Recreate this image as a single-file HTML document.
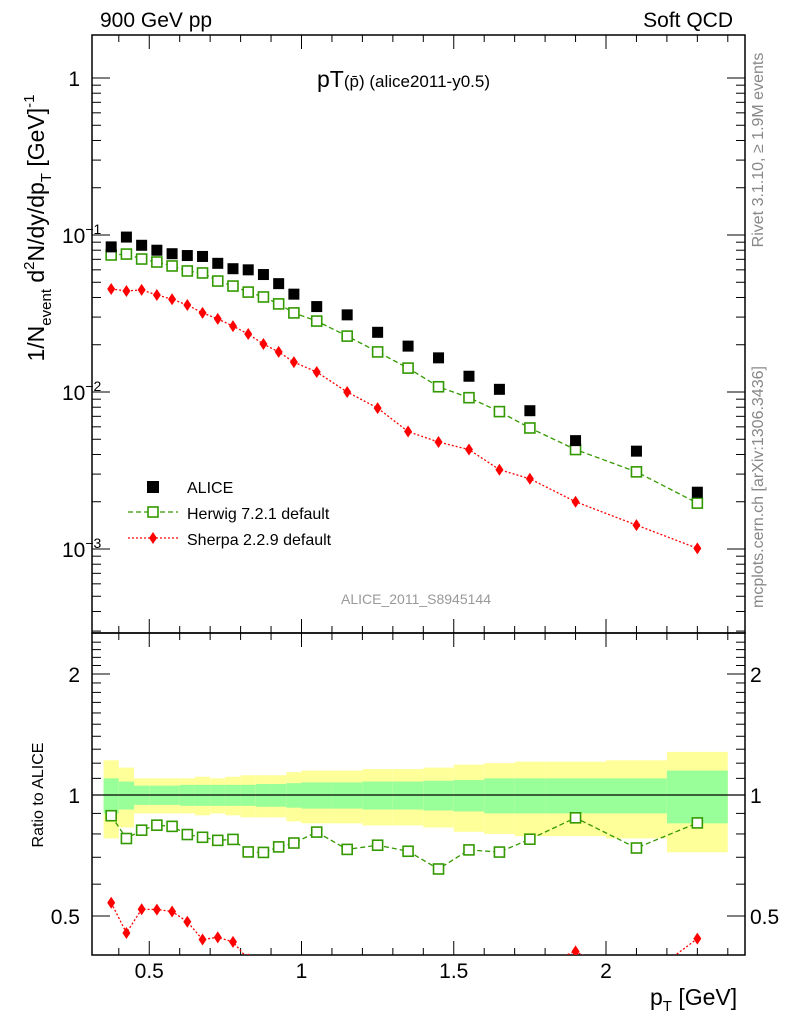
<!DOCTYPE html>
<html><head><meta charset="utf-8"><style>
body{margin:0;background:#fff}
svg text{font-family:"Liberation Sans",sans-serif}
</style></head><body>
<svg id="c" width="786" height="1024" xmlns="http://www.w3.org/2000/svg"></svg>
<script>
const xVals=[0.375,0.425,0.475,0.525,0.575,0.625,0.675,0.725,0.775,0.825,0.875,0.925,0.975,1.05,1.15,1.25,1.35,1.45,1.55,1.65,1.75,1.9,2.1,2.3];
const binEdges=[0.35,0.4,0.45,0.5,0.55,0.6,0.65,0.7,0.75,0.8,0.85,0.9,0.95,1.0,1.1,1.2,1.3,1.4,1.5,1.6,1.7,1.8,2.0,2.2,2.4];
const alice=[0.084,0.097,0.086,0.080,0.076,0.074,0.073,0.066,0.061,0.060,0.056,0.049,0.042,0.035,0.031,0.024,0.0196,0.0165,0.0126,0.0104,0.0076,0.0049,0.0042,0.0023];
const herwig=[0.0746,0.0756,0.0703,0.0673,0.0635,0.059,0.0573,0.0509,0.0473,0.0433,0.0403,0.0364,0.0319,0.0283,0.0227,0.018,0.0142,0.0108,0.0092,0.0075,0.0059,0.0043,0.0031,0.00196];
const sherpa=[0.0453,0.044,0.0447,0.0415,0.039,0.0358,0.0319,0.0292,0.0263,0.0234,0.0202,0.018,0.0155,0.0134,0.0100,0.0079,0.0056,0.0048,0.0043,0.0032,0.0028,0.0020,0.00142,0.00101];
const totErr=[0.22,0.17,0.10,0.10,0.10,0.10,0.11,0.10,0.11,0.12,0.12,0.12,0.14,0.15,0.15,0.16,0.16,0.17,0.19,0.20,0.21,0.21,0.22,0.28];
const statErr=[0.10,0.08,0.055,0.055,0.055,0.06,0.06,0.06,0.06,0.06,0.065,0.065,0.07,0.075,0.075,0.08,0.08,0.085,0.09,0.10,0.10,0.10,0.10,0.15];
const xTicks=[0.5,1,1.5,2];
const xTickLabels=["0.5","1","1.5","2"];
const ratioTicks=[0.5,1,2];
const ratioTickLabels=["0.5","1","2"];

const NS="http://www.w3.org/2000/svg";
const svg=document.getElementById('c');
const L=92,R=745,T=35,B1=633,B2=955;
const X=v=>-3+304.5*v;
const Y=v=>78-157*Math.log10(v);
const RY=v=>795-121*Math.log2(v);
function el(tag,attrs,parent){const e=document.createElementNS(NS,tag);for(const k in attrs)e.setAttribute(k,attrs[k]);(parent||svg).appendChild(e);return e;}
function txt(s,attrs){const e=el('text',attrs);e.textContent=s;return e;}

const defs=el('defs',{});
const c1=el('clipPath',{id:'cp1'},defs);el('rect',{x:L,y:T,width:R-L,height:B1-T},c1);
const c2=el('clipPath',{id:'cp2'},defs);el('rect',{x:L,y:B1,width:R-L,height:B2-B1},c2);

const gBand=el('g',{'clip-path':'url(#cp2)'});


for(let i=0;i<xVals.length;i++){
  const x0=X(binEdges[i]),x1=X(binEdges[i+1]);
  const y=el('rect',{x:x0,y:RY(1+totErr[i]),width:x1-x0,height:RY(1-totErr[i])-RY(1+totErr[i]),fill:'#ffff99'},gBand);
  
  
  const g=el('rect',{x:x0,y:RY(1+statErr[i]),width:x1-x0,height:RY(1-statErr[i])-RY(1+statErr[i]),fill:'#99ff99'},gBand);
  
  
}
el('line',{x1:L,x2:R,y1:RY(1),y2:RY(1),stroke:'#000','stroke-width':1.2});

for(const [t,b,n] of [[T,B1,'main-frame'],[B1,B2,'ratio-frame']]){
  const r=el('rect',{x:L,y:t,width:R-L,height:b-t,fill:'none',stroke:'#000','stroke-width':1.5});
  
  
}
for(let v=0.4;v<=2.45;v+=0.1){
  const vv=Math.round(v*10)/10;const major=Math.abs(vv*2-Math.round(vv*2))<1e-6;const len=major?14:7;
  const x=X(vv);
  for(const [t,b] of [[T,B1],[B1,B2]]){
    el('line',{x1:x,x2:x,y1:b,y2:b-len,stroke:'#000'});
    el('line',{x1:x,x2:x,y1:t,y2:t+len,stroke:'#000'});
  }
}
xTicks.forEach((v,i)=>{const t=txt(xTickLabels[i],{x:X(v),y:978,'font-size':21,'text-anchor':'middle'});});
for(let d=-4;d<=0;d++){for(let m=1;m<10;m++){const v=m*Math.pow(10,d);const y=Y(v);if(y<T||y>B1)continue;const len=m==1?18:9;
  el('line',{x1:L,x2:L+len,y1:y,y2:y,stroke:'#000'});el('line',{x1:R,x2:R-len,y1:y,y2:y,stroke:'#000'});}}
const yl=[[1,'1'],[0.1,'10'],[0.01,'10'],[0.001,'10']];
yl.forEach(([v,s],i)=>{const t=txt(s,{x:i==0?80:62,y:Y(v)+8,'font-size':21,'text-anchor':i==0?'end':'start'});
  if(i>0){const sp=el('tspan',{dy:-9,'font-size':14},t);sp.textContent='−'+i;}});
for(let v=0.5;v<=2.5;v+=0.1){const y=RY(v);if(y<B1||y>B2)continue;const major=[0.5,1,2].some(m=>Math.abs(m-v)<1e-6);const len=major?18:9;
  el('line',{x1:L,x2:L+len,y1:y,y2:y,stroke:'#000'});el('line',{x1:R,x2:R-len,y1:y,y2:y,stroke:'#000'});}
ratioTicks.forEach((v,i)=>{
  const a=txt(ratioTickLabels[i],{x:80,y:RY(v)+8,'font-size':21,'text-anchor':'end'});
  const b=txt(ratioTickLabels[i],{x:750,y:RY(v)+8,'font-size':21});});

function series(vals,yf,clip,color,dash,marker,name){
  const g=el('g',{'clip-path':clip});
  
  
  if(dash){el('polyline',{points:vals.map((v,i)=>X(xVals[i])+','+yf(v)).join(' '),fill:'none',stroke:color,'stroke-width':1.3,'stroke-dasharray':dash},g);}
  vals.forEach((v,i)=>{const x=X(xVals[i]),y=yf(v);let m;
    if(marker=='fsq')m=el('rect',{x:x-5.5,y:y-5.5,width:11,height:11,fill:color},g);
    else if(marker=='osq')m=el('rect',{x:x-5,y:y-5,width:10,height:10,fill:'#fff',stroke:color,'stroke-width':1.6},g);
    else m=el('polygon',{points:`${x},${y-6} ${x+4},${y} ${x},${y+6} ${x-4},${y}`,fill:color},g);
    
    
  });
}
series(sherpa,Y,'url(#cp1)','#ff0000','2,2','dia','sherpa-series');
series(herwig,Y,'url(#cp1)','#339900','5,3','osq','herwig-series');
series(alice,Y,'url(#cp1)','#000','', 'fsq','alice-series');
series(herwig.map((v,i)=>v/alice[i]),RY,'url(#cp2)','#339900','5,3','osq','herwig-ratio');
series(sherpa.map((v,i)=>v/alice[i]),RY,'url(#cp2)','#ff0000','2,2','dia','sherpa-ratio');

function label(s,attrs,name){const t=txt(s,attrs);return t;}
label('900 GeV pp',{x:100,y:27,'font-size':21},'energy-label');
label('Soft QCD',{x:733,y:27,'font-size':21,'text-anchor':'end'},'process-label');
const ti=label('pT',{x:317,y:87,'font-size':23},'plot-title');
const ts=el('tspan',{'font-size':17},ti);ts.textContent='(p̄)';
const ts2=el('tspan',{'font-size':17},ti);ts2.textContent=' (alice2011-y0.5)';
label('Rivet 3.1.10, ≥ 1.9M events',{x:0,y:0,'font-size':16,fill:'#888','text-anchor':'middle',transform:'translate(763,150) rotate(-90)'},'rivet-label');
label('mcplots.cern.ch [arXiv:1306.3436]',{x:0,y:0,'font-size':16,fill:'#888','text-anchor':'middle',transform:'translate(763,487) rotate(-90)'},'mcplots-label');
label('ALICE_2011_S8945144',{x:416,y:604,'font-size':14,fill:'#999','text-anchor':'middle'},'analysis-id');
const yt=label('1/N',{x:0,y:0,'font-size':23,'text-anchor':'middle',transform:'translate(44,228) rotate(-90)'},'y-axis-title');
[['event',15,7],[' d',23,-7],['2',15,-10],['N/dy/dp',23,10],['T',15,7],[' [GeV]',23,-7],['-1',15,-10]].forEach(([s,f,dy])=>{const sp=el('tspan',{'font-size':f,dy:dy},yt);sp.textContent=s;});
label('Ratio to ALICE',{x:0,y:0,'font-size':16,'text-anchor':'middle',transform:'translate(43,795) rotate(-90)'},'ratio-axis-title');
const xt=label('p',{x:650,y:1005,'font-size':23},'x-axis-title');
const xs=el('tspan',{'font-size':15,dy:6},xt);xs.textContent='T';
const xs2=el('tspan',{'font-size':23,dy:-6},xt);xs2.textContent=' [GeV]';

const lg=el('g',{});


el('rect',{x:147,y:481,width:12,height:12,fill:'#000'},lg);
el('line',{x1:128,x2:178,y1:512,y2:512,stroke:'#339900','stroke-dasharray':'5,3','stroke-width':1.3},lg);
el('rect',{x:148,y:507,width:10,height:10,fill:'#fff',stroke:'#339900','stroke-width':1.6},lg);
el('line',{x1:128,x2:178,y1:538,y2:538,stroke:'#ff0000','stroke-dasharray':'2,2','stroke-width':1.3},lg);
el('polygon',{points:'153,532 157,538 153,544 149,538',fill:'#ff0000'},lg);
[['ALICE',493],['Herwig 7.2.1 default',519],['Sherpa 2.2.9 default',545]].forEach(([s,y])=>{const t=el('text',{x:187,y:y,'font-size':16},lg);t.textContent=s;});
</script>
</body></html>
